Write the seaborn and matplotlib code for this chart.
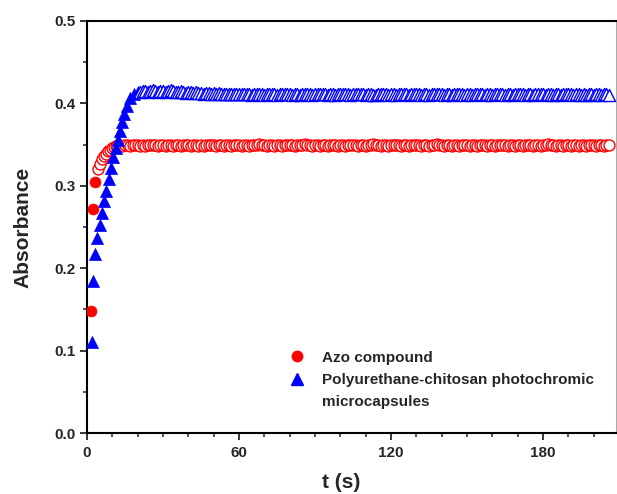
import numpy as np
import matplotlib
matplotlib.use("Agg")
import matplotlib.pyplot as plt
from matplotlib.lines import Line2D
from matplotlib.ticker import MultipleLocator, FormatStrFormatter
import seaborn as sns

# rise part
t_azo_rise = [1.7, 2.2, 3.3, 4.3, 5.0, 5.8, 6.6, 7.4, 8.2, 9.0, 9.8, 10.6, 11.4]
a_azo_rise = [0.148, 0.272, 0.305, 0.320, 0.327, 0.332, 0.336, 0.339, 0.342, 0.344,
              0.346, 0.347, 0.348]

t_pu_rise = [2.0, 2.4, 3.3, 3.9, 5.0, 6.0, 6.9, 7.6, 8.5, 9.5, 10.4, 11.6, 12.4, 13.1,
             13.8, 14.7, 15.7, 17.0, 18.5, 20.0]
a_pu_rise = [0.110, 0.184, 0.217, 0.237, 0.253, 0.267, 0.281, 0.294, 0.308, 0.322,
             0.335, 0.346, 0.356, 0.366, 0.377, 0.387, 0.397, 0.406, 0.412, 0.414]

# plateau part, one reading per second (azo from t=12 s, PU from t=21 s)
a_azo_plateau = [
    0.348, 0.349, 0.348, 0.349, 0.349, 0.348, 0.349, 0.350, 0.349, 0.348, 0.349, 0.348, 0.349, 0.349, 0.350,
    0.349, 0.348, 0.349, 0.349, 0.348, 0.350, 0.349, 0.348, 0.349, 0.349, 0.348, 0.349, 0.350, 0.349, 0.348,
    0.349, 0.349, 0.348, 0.349, 0.348, 0.349, 0.349, 0.350, 0.349, 0.348, 0.349, 0.349, 0.348, 0.349, 0.349,
    0.348, 0.349, 0.350, 0.349, 0.348, 0.349, 0.349, 0.348, 0.349, 0.349, 0.350, 0.351, 0.350, 0.349, 0.348,
    0.349, 0.349, 0.348, 0.349, 0.349, 0.348, 0.349, 0.350, 0.349, 0.349, 0.348, 0.349, 0.349, 0.350, 0.351,
    0.350, 0.349, 0.348, 0.349, 0.349, 0.348, 0.349, 0.349, 0.348, 0.349, 0.350, 0.349, 0.348, 0.349, 0.349,
    0.348, 0.349, 0.349, 0.350, 0.349, 0.348, 0.349, 0.349, 0.348, 0.349, 0.350, 0.351, 0.350, 0.349, 0.348,
    0.349, 0.349, 0.348, 0.349, 0.349, 0.350, 0.349, 0.348, 0.349, 0.349, 0.348, 0.349, 0.350, 0.349, 0.349,
    0.348, 0.349, 0.349, 0.348, 0.349, 0.350, 0.351, 0.350, 0.349, 0.348, 0.349, 0.349, 0.348, 0.349, 0.349,
    0.348, 0.349, 0.350, 0.349, 0.348, 0.349, 0.349, 0.348, 0.349, 0.350, 0.349, 0.348, 0.349, 0.349, 0.348,
    0.349, 0.349, 0.350, 0.349, 0.348, 0.349, 0.349, 0.348, 0.349, 0.349, 0.348, 0.349, 0.350, 0.349, 0.348,
    0.349, 0.349, 0.348, 0.349, 0.350, 0.351, 0.350, 0.349, 0.348, 0.349, 0.349, 0.348, 0.349, 0.349, 0.348,
    0.349, 0.349, 0.348, 0.349, 0.349, 0.348, 0.349, 0.350, 0.349, 0.348, 0.349, 0.349, 0.348, 0.349, 0.350,
]
a_pu_plateau = [
    0.414, 0.415, 0.415, 0.414, 0.415, 0.416, 0.415, 0.414, 0.415, 0.415, 0.414, 0.415, 0.416, 0.415, 0.414,
    0.414, 0.415, 0.414, 0.413, 0.414, 0.414, 0.413, 0.414, 0.413, 0.413, 0.412, 0.413, 0.413, 0.412, 0.413,
    0.412, 0.413, 0.412, 0.412, 0.411, 0.412, 0.412, 0.411, 0.412, 0.411, 0.411, 0.412, 0.411, 0.411, 0.410,
    0.411, 0.412, 0.411, 0.411, 0.410, 0.411, 0.411, 0.412, 0.411, 0.410, 0.411, 0.411, 0.412, 0.411, 0.411,
    0.410, 0.411, 0.411, 0.410, 0.411, 0.412, 0.411, 0.411, 0.410, 0.411, 0.411, 0.411, 0.412, 0.411, 0.410,
    0.411, 0.411, 0.410, 0.411, 0.411, 0.412, 0.411, 0.411, 0.410, 0.411, 0.412, 0.412, 0.411, 0.411, 0.410,
    0.411, 0.411, 0.410, 0.410, 0.411, 0.411, 0.412, 0.411, 0.410, 0.411, 0.411, 0.410, 0.411, 0.412, 0.411,
    0.411, 0.410, 0.411, 0.411, 0.412, 0.411, 0.410, 0.411, 0.411, 0.410, 0.411, 0.411, 0.412, 0.411, 0.411,
    0.410, 0.411, 0.411, 0.410, 0.411, 0.412, 0.411, 0.411, 0.410, 0.411, 0.411, 0.410, 0.411, 0.411, 0.412,
    0.411, 0.410, 0.411, 0.411, 0.410, 0.411, 0.412, 0.411, 0.411, 0.410, 0.411, 0.411, 0.410, 0.411, 0.411,
    0.412, 0.411, 0.410, 0.411, 0.411, 0.410, 0.411, 0.411, 0.412, 0.411, 0.410, 0.411, 0.411, 0.410, 0.411,
    0.411, 0.410, 0.411, 0.411, 0.412, 0.411, 0.410, 0.411, 0.411, 0.410, 0.411, 0.410, 0.411, 0.411, 0.410,
    0.411, 0.411, 0.410, 0.411, 0.411, 0.410,
]
t_azo_plateau = np.arange(12, 12 + len(a_azo_plateau))
t_pu_plateau = np.arange(21, 21 + len(a_pu_plateau))

xticks = [0, 60, 120, 180]
yticks = [0.0, 0.1, 0.2, 0.3, 0.4, 0.5]
labels = ["Azo compound", "Polyurethane-chitosan photochromic", "microcapsules"]

RED = "#ff0000"
BLUE = "#0000ff"

sns.set_style("ticks")
plt.rcParams["font.family"] = ["Liberation Sans", "DejaVu Sans"]
plt.rcParams["font.weight"] = "bold"

fig = plt.figure(figsize=(6.17, 4.94), dpi=100)
ax = fig.add_axes([87 / 617, 1 - 433 / 494, (616 - 87) / 617, 412 / 494])

# azo compound: filled first points, then open (white) circles
sns.scatterplot(x=t_azo_rise[:3], y=a_azo_rise[:3], ax=ax, marker="o", s=62,
                color=RED, edgecolor=RED, linewidth=0.5, zorder=3)
sns.scatterplot(x=np.r_[t_azo_rise[3:], t_azo_plateau], y=np.r_[a_azo_rise[3:], a_azo_plateau],
                ax=ax, marker="o", s=62, facecolor="white", edgecolor=RED,
                linewidth=1.0, zorder=3)

# PU-chitosan microcapsules: filled triangles on the rise, open on the plateau
sns.scatterplot(x=t_pu_rise, y=a_pu_rise, ax=ax, marker="^", s=75,
                color=BLUE, edgecolor=BLUE, linewidth=0.5, zorder=4)
sns.scatterplot(x=t_pu_plateau, y=a_pu_plateau, ax=ax, marker="^", s=75,
                facecolor="white", edgecolor=BLUE, linewidth=1.0, zorder=4)

ax.set_xlim(0, 208.8)
ax.set_ylim(0, 0.5)
ax.set_xticks(xticks)
ax.set_yticks(yticks)
ax.xaxis.set_minor_locator(MultipleLocator(10))
ax.yaxis.set_minor_locator(MultipleLocator(0.05))
ax.yaxis.set_major_formatter(FormatStrFormatter("%.1f"))
ax.tick_params(which="major", direction="out", length=5, width=1.3, labelsize=11, pad=3)
ax.tick_params(which="minor", direction="out", length=3, width=1.1)
ax.tick_params(axis="x", which="major", pad=4)
for lab in ax.get_xticklabels() + ax.get_yticklabels():
    lab.set_fontweight("bold")

for side in ["left", "bottom", "top"]:
    ax.spines[side].set_linewidth(1.5)
    ax.spines[side].set_color("black")
ax.spines["right"].set_linewidth(0.8)
ax.spines["right"].set_color("#aaaaaa")

ax.set_xlabel("t (s)", fontsize=15, fontweight="bold")
ax.set_ylabel("Absorbance", fontsize=15, fontweight="bold")
ax.xaxis.set_label_coords((341 - 87) / 529, (433 - 473) / 412)
ax.yaxis.set_label_coords((32 - 87) / 529, 0.5)

handles = [
    Line2D([], [], marker="o", linestyle="none", color=RED, markersize=7.5),
    Line2D([], [], marker="^", linestyle="none", color=BLUE, markersize=8.2),
    Line2D([], [], linestyle="none"),
]
ax.legend(handles, labels, loc="upper left", bbox_to_anchor=(0.383, 0.2),
          frameon=False, handlelength=1.0, handletextpad=1.1,
          labelspacing=0.55, borderpad=0, borderaxespad=0,
          prop={"weight": "bold", "size": 11})

fig.savefig("out.png", dpi=100)
